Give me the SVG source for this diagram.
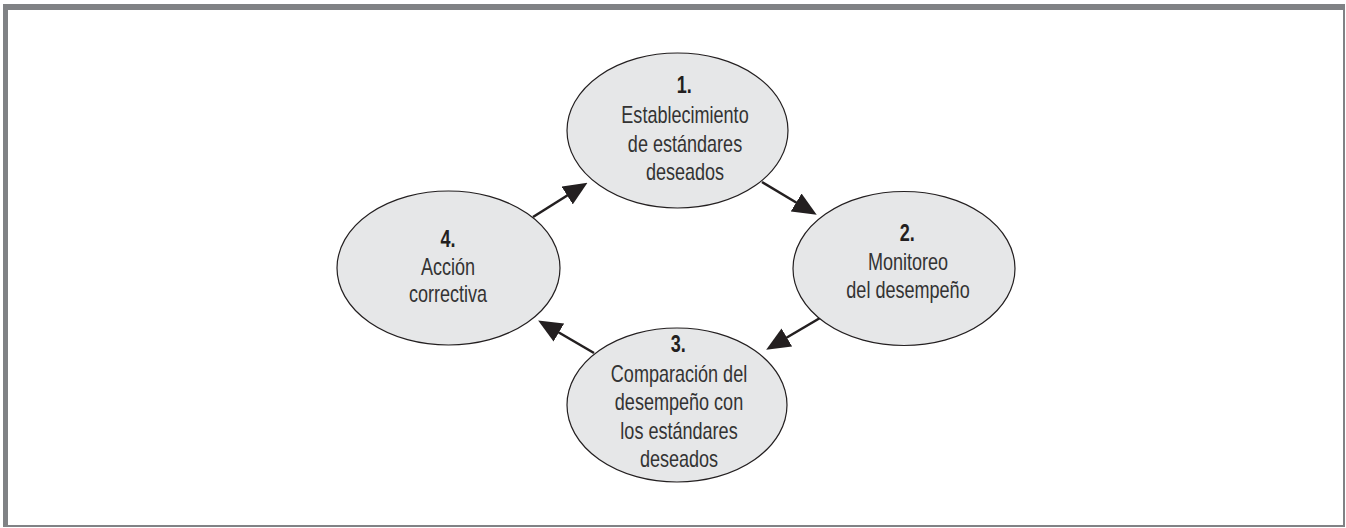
<svg xmlns="http://www.w3.org/2000/svg" width="1346" height="528" viewBox="0 0 1346 528">
  <style>
    .node { fill: #e6e7e8; stroke: #231f20; stroke-width: 1.2; }
    .lbl { font-family: "Liberation Sans Narrow", "Liberation Sans", Arial, sans-serif; font-size: 23px; fill: #333333; text-anchor: middle; }
    .num { font-weight: bold; fill: #231f20; }
    .conn { stroke: #231f20; stroke-width: 2.6; fill: none; marker-end: url(#ah); }
    .frame { fill: #808285; }
  </style>
  <defs>
    <marker id="ah" viewBox="0 0 24 21" refX="1" refY="10.5" markerWidth="24" markerHeight="21" markerUnits="userSpaceOnUse" orient="auto">
      <path d="M0,0 L24,10.5 L0,21 z" fill="#231f20"/>
    </marker>
  </defs>
  <rect x="0" y="0" width="1346" height="528" fill="#ffffff"/>
  <g id="frame">
    <rect class="frame" x="3" y="4" width="1342" height="6"/>
    <rect class="frame" x="3" y="4" width="5" height="523"/>
    <rect class="frame" x="1343" y="4" width="2" height="523"/>
    <rect class="frame" x="3" y="525" width="1342" height="2"/>
  </g>
  <g id="connectors">
    <line class="conn" x1="762" y1="182" x2="797" y2="203"/>
    <line class="conn" x1="820" y1="318" x2="786" y2="338"/>
    <line class="conn" x1="594" y1="353" x2="558" y2="332"/>
    <line class="conn" x1="533" y1="217" x2="568" y2="195"/>
  </g>
  <g id="node1">
    <ellipse class="node" cx="677.5" cy="130.5" rx="110.5" ry="77.5"/>
    <g transform="translate(685 0) scale(0.785 1)">
      <text class="lbl num" x="-1" y="93">1.</text>
      <text class="lbl" x="0" y="123">Establecimiento</text>
      <text class="lbl" x="0" y="152">de estándares</text>
      <text class="lbl" x="0" y="180">deseados</text>
    </g>
  </g>
  <g id="node2">
    <ellipse class="node" cx="904" cy="268.5" rx="111" ry="77"/>
    <g transform="translate(908 0) scale(0.785 1)">
      <text class="lbl num" x="-1" y="241">2.</text>
      <text class="lbl" x="0" y="270">Monitoreo</text>
      <text class="lbl" x="0" y="298">del desempeño</text>
    </g>
  </g>
  <g id="node3">
    <ellipse class="node" cx="677" cy="405" rx="110" ry="77"/>
    <g transform="translate(679 0) scale(0.785 1)">
      <text class="lbl num" x="-1" y="352">3.</text>
      <text class="lbl" x="0" y="382">Comparación del</text>
      <text class="lbl" x="0" y="410">desempeño con</text>
      <text class="lbl" x="0" y="439">los estándares</text>
      <text class="lbl" x="0" y="467">deseados</text>
    </g>
  </g>
  <g id="node4">
    <ellipse class="node" cx="448.5" cy="268" rx="111.5" ry="77"/>
    <g transform="translate(448 0) scale(0.785 1)">
      <text class="lbl num" x="0" y="247">4.</text>
      <text class="lbl" x="0" y="275">Acción</text>
      <text class="lbl" x="0" y="302">correctiva</text>
    </g>
  </g>
</svg>
